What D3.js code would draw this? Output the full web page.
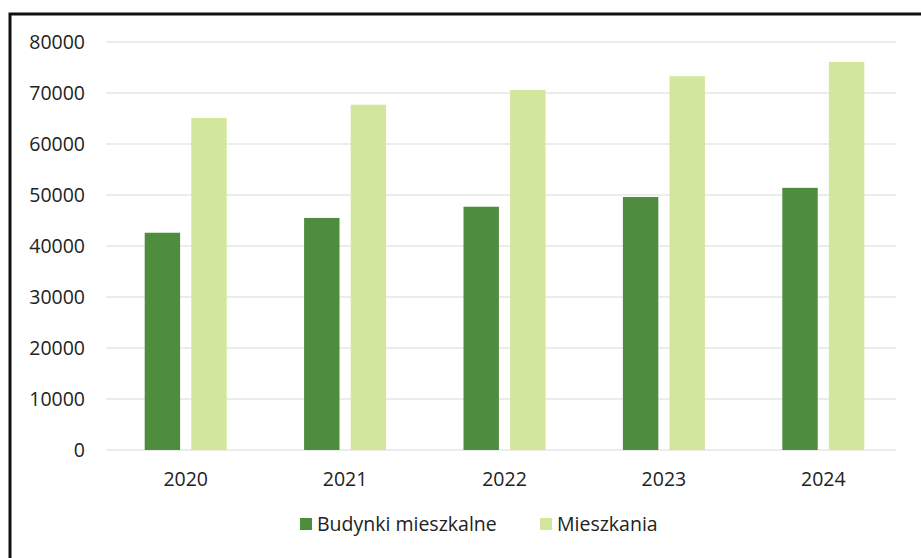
<!DOCTYPE html>
<html>
<head>
<meta charset="utf-8">
<script src="https://cdn.jsdelivr.net/npm/d3@7"></script>
<style>
  body { margin: 0; background: #fff; }
  svg text { font-family: "Open Sans", "Noto Sans", sans-serif; fill: #222; }
</style>
</head>
<body>
<div id="chart"></div>
<script>
// data
var years = ["2020", "2021", "2022", "2023", "2024"];
var budynki = [42600, 45500, 47700, 49600, 51400];
var mieszkania = [65100, 67700, 70600, 73300, 76100];
var series_names = ["Budynki mieszkalne", "Mieszkania"];
var series_colors = ["#4e8c3e", "#d3e69d"];
var y_ticks = [0, 10000, 20000, 30000, 40000, 50000, 60000, 70000, 80000];

const width = 921, height = 558;
const margin = {top: 42, right: 18, bottom: 108, left: 106};
const fontSize = "19.5px";

const svg = d3.select("#chart")
  .append("svg")
    .attr("width", width)
    .attr("height", height);

// outer frame (only left and top edges visible on the scan)
svg.append("path")
  .attr("d", "M10,558 L10,14 L921,14")
  .attr("fill", "none")
  .attr("stroke", "#111")
  .attr("stroke-width", 3);

const g = svg.append("g")
  .attr("transform", `translate(${margin.left},${margin.top})`);

const innerH = height - margin.top - margin.bottom;

const x = d3.scaleBand()
  .domain(years)
  .range([0, 797]);

const y = d3.scaleLinear()
  .domain([0, 80000])
  .range([innerH, 0]);

// gridlines
g.append("g")
  .selectAll("line")
  .data(y_ticks)
  .join("line")
    .attr("x1", 0)
    .attr("x2", 790)
    .attr("y1", d => y(d))
    .attr("y2", d => y(d))
    .attr("stroke", "#d9d9d9")
    .attr("stroke-width", 1.2);

// y axis labels
const yAxis = g.append("g")
  .call(d3.axisLeft(y).tickValues(y_ticks).tickSize(0).tickPadding(21).tickFormat(d3.format("d")));
yAxis.select(".domain").remove();
yAxis.selectAll("text").style("font-size", fontSize).attr("fill", "#222");

// x axis labels
const xAxis = g.append("g")
  .attr("transform", `translate(0,${innerH})`)
  .call(d3.axisBottom(x).tickSize(0).tickPadding(22));
xAxis.select(".domain").remove();
xAxis.selectAll("text").style("font-size", fontSize).attr("fill", "#222");

const sub = d3.scaleBand()
  .domain([0, 1])
  .range([x.bandwidth() / 2 - 41, x.bandwidth() / 2 + 41])
  .paddingInner(0.24);

const rows = years.map((yr, i) => ({year: yr, vals: [budynki[i], mieszkania[i]]}));

g.append("g")
  .selectAll("g")
  .data(rows)
  .join("g")
    .attr("transform", d => `translate(${x(d.year)},0)`)
  .selectAll("rect")
  .data(d => d.vals.map((v, k) => ({k: k, v: v})))
  .join("rect")
    .attr("x", d => sub(d.k))
    .attr("width", sub.bandwidth())
    .attr("y", d => y(d.v))
    .attr("height", d => y(0) - y(d.v))
    .attr("fill", d => series_colors[d.k]);

// legend
const legend = svg.append("g").attr("transform", "translate(300,524)");
const legX = [0, 240];
series_names.forEach(function(name, k) {
  legend.append("rect")
    .attr("x", legX[k])
    .attr("y", -6)
    .attr("width", 12)
    .attr("height", 12)
    .attr("fill", series_colors[k]);
  legend.append("text")
    .attr("x", legX[k] + 17)
    .attr("y", 0)
    .attr("dy", "0.35em")
    .style("font-size", fontSize)
    .text(name);
});
</script>
</body>
</html>
